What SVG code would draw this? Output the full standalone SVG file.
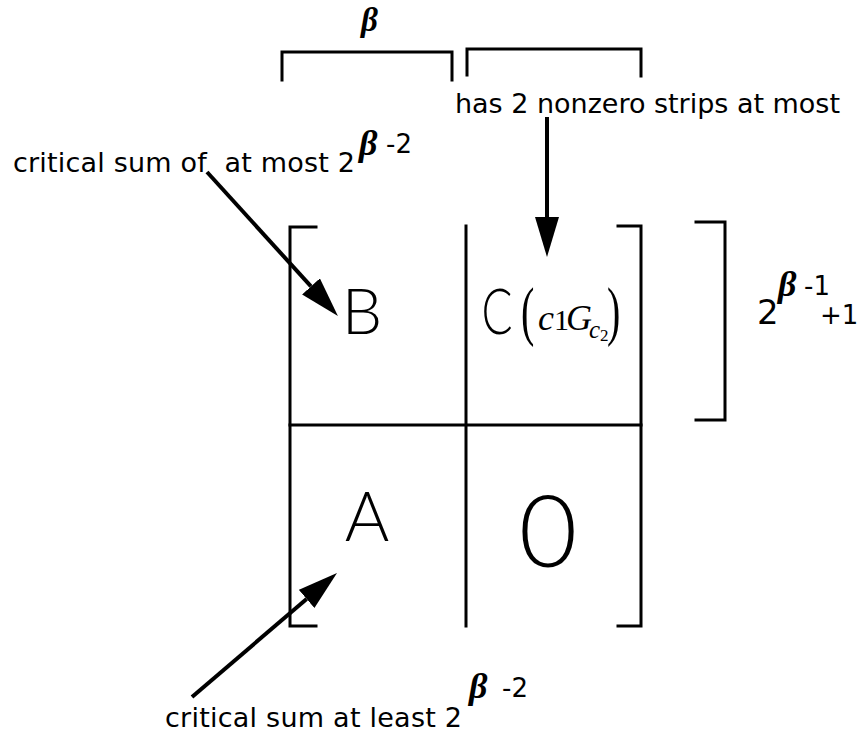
<svg xmlns="http://www.w3.org/2000/svg" width="859" height="734" viewBox="0 0 859 734">
<style>
  .ln { stroke:#000; stroke-width:3; fill:none; stroke-linecap:square; }
  .arw { stroke:#000; stroke-width:4; fill:none; }
  .lbl { font-family:"DejaVu Sans","Liberation Sans",sans-serif; font-size:27px; fill:#000; }
  .sup { font-family:"DejaVu Sans","Liberation Sans",sans-serif; font-size:26px; fill:#000; }
  .beta { font-family:"Liberation Serif","DejaVu Serif",serif; font-weight:bold; font-style:italic; font-size:36px; fill:#000; }
  .big { font-family:"Lato","Open Sans","Liberation Sans",sans-serif; font-weight:300; fill:#000; text-anchor:middle; }
  .ser { font-family:"Liberation Serif","DejaVu Serif",serif; fill:#000; }
  .it { font-style:italic; }
</style>
<defs>
  <marker id="ah" markerUnits="userSpaceOnUse" markerWidth="44" markerHeight="28" refX="0" refY="12" orient="auto" viewBox="0 0 44 28">
    <path d="M0,0 L40,12 L0,24 z" fill="#000"/>
  </marker>
</defs>

<g id="top-brackets">
  <path class="ln" d="M282,80 V52 H452 V80"/>
  <path class="ln" d="M467,75 V49 H641 V76"/>
  <text class="beta" x="361" y="31" style="font-size:33px">β</text>
</g>

<g id="matrix">
  <path class="ln" d="M316,227 H290 V626 H316"/>
  <path class="ln" d="M618,226 H641 V626 H618"/>
  <line class="ln" x1="466" y1="226" x2="466" y2="626"/>
  <line class="ln" x1="290" y1="425" x2="641" y2="425"/>
</g>

<g id="cell-B">
  <text class="big" x="362" y="334" font-size="64">B</text>
</g>
<g id="cell-C">
  <text class="big" x="497" y="334" font-size="64" textLength="31" lengthAdjust="spacingAndGlyphs">C</text>
  <text class="ser" transform="translate(521,333) scale(1,1.65)" font-size="40">(</text>
  <text class="ser it" x="538" y="330" font-size="36">c</text>
  <text class="ser" x="554" y="330" font-size="30">1</text>
  <text class="ser it" x="566" y="330" font-size="36">G</text>
  <text class="ser it" x="589" y="338" font-size="25">c</text>
  <text class="ser" x="600" y="341" font-size="17">2</text>
  <text class="ser" transform="translate(607,333) scale(1,1.65)" font-size="40">)</text>
</g>
<g id="cell-A">
  <text class="big" x="367" y="541" font-size="68">A</text>
</g>
<g id="cell-0">
  <text class="big" x="548" y="567" font-size="101">0</text>
</g>

<g id="right-bracket">
  <path class="ln" d="M696,222 H725 V420 H696"/>
  <text class="lbl" x="757" y="324" style="font-size:34px">2</text>
  <text class="beta" x="778" y="296">β</text>
  <text class="sup" x="804" y="295">-1</text>
  <text class="sup" x="820" y="324">+1</text>
</g>

<g id="label-B">
  <text class="lbl" x="13" y="172" textLength="342" xml:space="preserve">critical sum of  at most 2</text>
  <text class="beta" x="359" y="155">β</text>
  <text class="sup" x="386" y="153">-2</text>
</g>
<g id="label-C">
  <text class="lbl" x="455" y="113" textLength="385">has 2 nonzero strips at most</text>
</g>
<g id="label-A">
  <text class="lbl" x="165" y="727" textLength="297">critical sum at least 2</text>
  <text class="beta" x="469" y="698">β</text>
  <text class="sup" x="502" y="697">-2</text>
</g>

<g id="connectors">
  <line class="arw" x1="207" y1="172" x2="311" y2="286.4" marker-end="url(#ah)"/>
  <line class="arw" x1="547" y1="117" x2="547" y2="217" marker-end="url(#ah)"/>
  <line class="arw" x1="192" y1="697" x2="306.6" y2="599" marker-end="url(#ah)"/>
</g>
</svg>
